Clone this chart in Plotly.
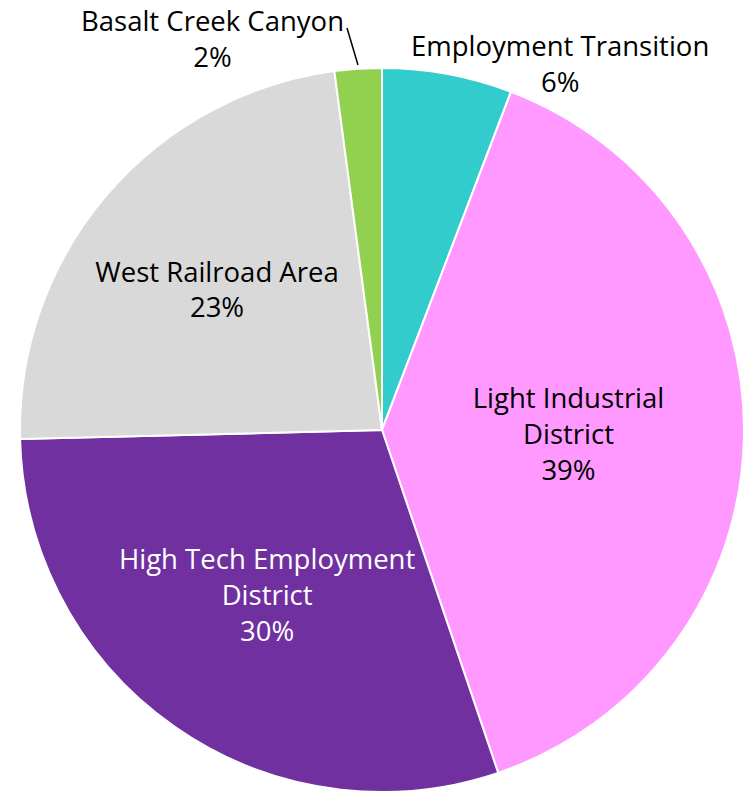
import plotly.graph_objects as go

labels = ["Employment Transition", "Light Industrial District", "High Tech Employment District",
          "West Railroad Area", "Basalt Creek Canyon"]
display_labels = ["Employment Transition", "Light Industrial<br>District", "High Tech Employment<br>District",
                  "West Railroad Area", "Basalt Creek Canyon"]
values = [5.8, 39.0, 29.8, 23.3, 2.1]
colors = ["#33CCCC", "#FF99FF", "#7030A0", "#D9D9D9", "#92D050"]
text_colors = ["black", "black", "white", "black", "black"]
inside = [False, True, True, True, False]

FONT = "Open Sans"
FS = 27.5

texts = [d if ins else "" for d, ins in zip(display_labels, inside)]
total = sum(values)

fig = go.Figure(go.Pie(
    labels=labels,
    values=values,
    text=texts,
    sort=False,
    direction="clockwise",
    rotation=0,
    marker=dict(colors=colors, line=dict(color="white", width=2)),
    texttemplate=["%{text}<br>%{percent:.0%}" if ins else "" for ins in inside],
    textposition="inside",
    insidetextorientation="horizontal",
    textfont=dict(family=FONT, size=FS, color=text_colors),
    domain=dict(x=[17/751, 747/751], y=[0, 0.9142]),
    showlegend=False,
    hoverinfo="label+percent",
))

# outside labels for the small slices
fig.add_annotation(x=212/751, y=1 - 39/792, xref="paper", yref="paper",
                   text=f"{display_labels[4]}<br>{round(values[4]/total*100)}%",
                   showarrow=False, xanchor="center", yanchor="middle",
                   font=dict(family=FONT, size=FS, color="black"))
fig.add_annotation(x=560/751, y=1 - 64/792, xref="paper", yref="paper",
                   text=f"{display_labels[0]}<br>{round(values[0]/total*100)}%",
                   showarrow=False, xanchor="center", yanchor="middle",
                   font=dict(family=FONT, size=FS, color="black"))
# leader line for Basalt Creek Canyon
fig.add_shape(type="line", xref="paper", yref="paper",
              x0=347/751, y0=1 - 28/792, x1=358/751, y1=1 - 65/792,
              line=dict(color="black", width=1.5))

fig.update_layout(
    width=751, height=792,
    margin=dict(l=0, r=0, t=0, b=0),
    paper_bgcolor="white",
    plot_bgcolor="white",
)

fig.write_html("out.html", config={"displayModeBar": False},
               post_script="document.body.style.margin='0';")
